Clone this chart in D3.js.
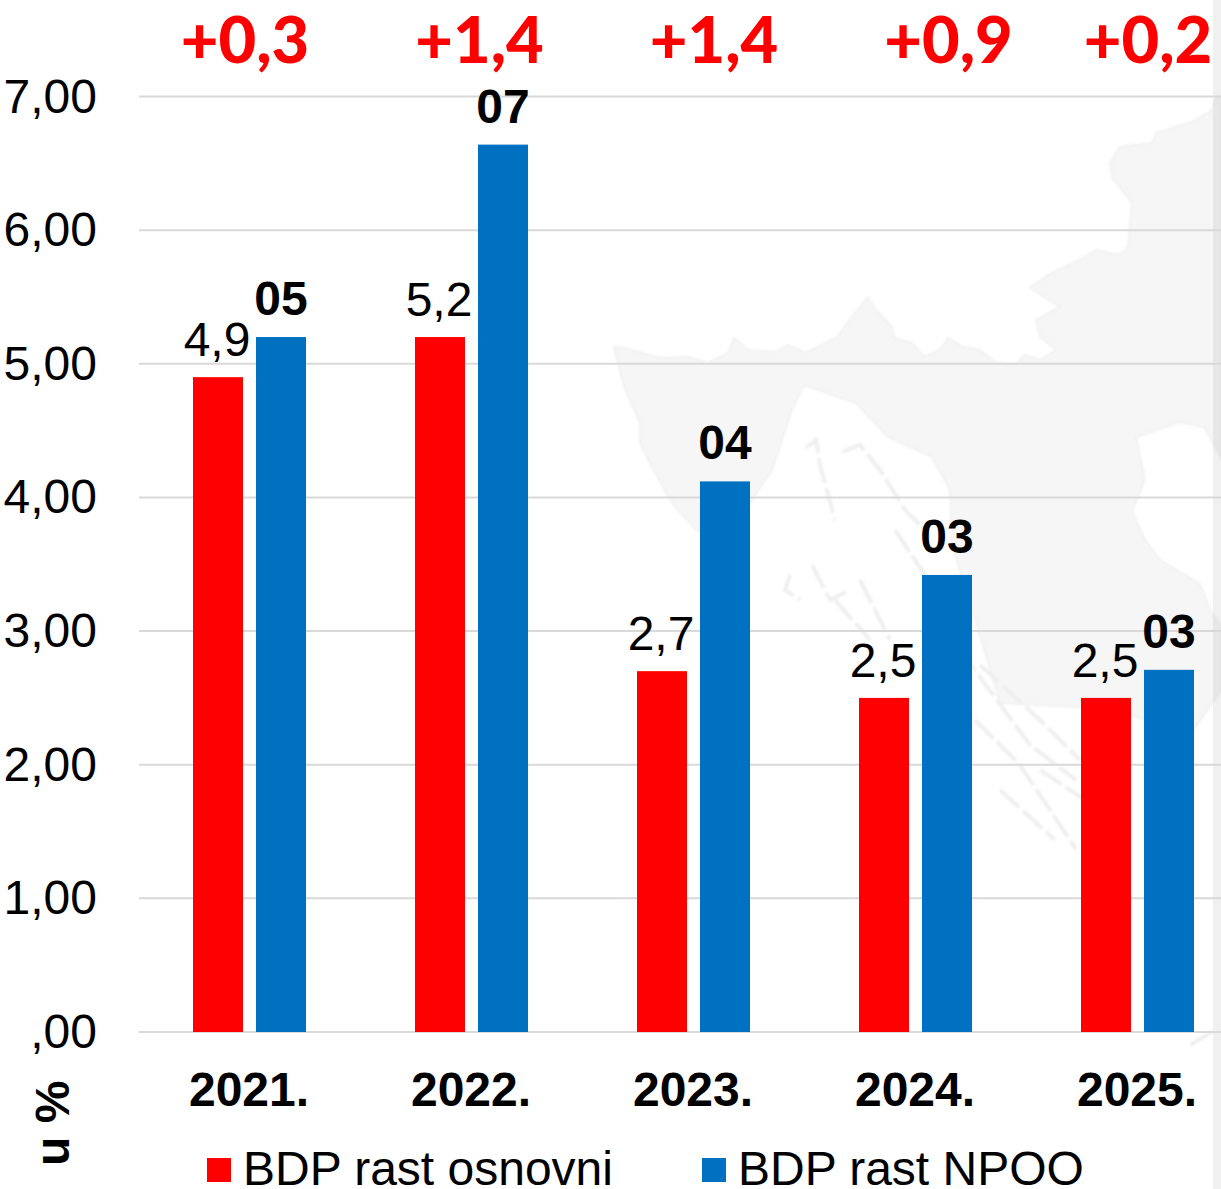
<!DOCTYPE html>
<html><head><meta charset="utf-8">
<script src="https://cdn.jsdelivr.net/npm/d3@7"></script>
<style>html,body{margin:0;padding:0;background:#fff;overflow:hidden}svg{display:block}text{font-family:"Liberation Sans",Arial,sans-serif;fill:#000}</style>
</head><body><svg id="c" width="1221" height="1189"><defs><filter id="soft" x="-5%" y="-5%" width="110%" height="110%"><feGaussianBlur stdDeviation="1"/></filter></defs></svg>
<script>
const years=["2021.","2022.","2023.","2024.","2025."];
const seriesNames=["BDP rast osnovni","BDP rast NPOO"];
const seriesColors=["#ff0000","#0070c0"];
const osnovni=[4.9,5.2,2.7,2.5,2.5];
const npoo=[5.2,6.64,4.12,3.42,2.71];
const osnovniLabels=["4,9","5,2","2,7","2,5","2,5"];
const npooLabels=["05","07","04","03","03"];
const deltas=["+0,3","+1,4","+1,4","+0,9","+0,2"];
const yTicks=[0,1,2,3,4,5,6,7];
const yTickLabels=[",00","1,00","2,00","3,00","4,00","5,00","6,00","7,00"];

const svg=d3.select("#c");
const y=d3.scaleLinear().domain([0,7]).range([1032,96.5]);
const x=d3.scaleBand().domain(years).range([138.5,1248.5]);
const inner=d3.scaleBand().domain(seriesNames).range([-56.5,56.5]).paddingInner(0.206);
const deltaX=d3.scaleLinear().domain([0,4]).range([245,1183]);

// faint map of Croatia in the background
const land="M614,347L624,348L660,358L688,357L708,363L728,353L734,338L748,350L776,352L788,345L806,353L836,338L852,317L868,297L876,310L892,327L894,338L912,343L924,357L940,350L948,338L964,347L980,350L996,363L1016,365L1024,355L1040,360L1056,350L1040,337L1036,320L1060,307L1044,297L1030,287L1052,273L1080,260L1096,250L1120,255L1128,247L1132,203L1112,177L1110,163L1120,147L1152,143L1156,133L1192,122L1212,110L1216,97L1221,97L1221,457L1204,427L1180,422L1136,437L1145,480L1132,511L1144,538L1160,560L1200,584L1212,614L1221,626L1221,690L1190,735L1130,715L1080,707L1000,703L976,622L952,545L950,490L932,457L888,437L856,403L804,385L792,410L772,470L752,500L730,545L696,530L672,503L652,467L640,443L640,423L624,387Z";
const g0=svg.append("g").attr("filter","url(#soft)");
g0.append("path").attr("d",land).attr("fill","#f6f6f6").attr("stroke","#f1f1f1").attr("stroke-width",2);
const isles=["M806,448L816,440L820,465L835,520","M842,452L860,445L880,470L905,510L925,530","M790,575L785,590L800,600","M812,565L830,600L850,590","M895,530L925,575","M860,580L890,640","M835,600L870,640","M980,665L1040,720L1080,760","M960,650L1030,745L1076,780","M975,720L1020,765L1076,849","M1040,770L1100,810","M1000,790L1055,840","M1190,1045L1215,1030","M1170,1025L1174,1028"];
g0.selectAll("path.i").data(isles).join("path").attr("class","i").attr("d",d=>d).attr("fill","none").attr("stroke","#efefef").attr("stroke-width",4).attr("stroke-dasharray","26 5");
svg.append("rect").attr("x",1213).attr("y",0).attr("width",8).attr("height",1189).attr("fill","#000").attr("opacity",0.06);

// gridlines + y axis
const yAxis=d3.axisLeft(y).tickValues(yTicks).tickSize(0).tickPadding(0).tickFormat((d,i)=>yTickLabels[i]);
const ga=svg.append("g").attr("transform","translate(97,0)").call(yAxis);
ga.select(".domain").remove();
ga.selectAll("text").attr("font-size",48).attr("x",0).attr("dy",null).attr("y",15.5).attr("text-anchor","end");
svg.append("g").selectAll("line").data(yTicks).join("line")
  .attr("x1",139).attr("x2",1221).attr("y1",d=>y(d)).attr("y2",d=>y(d))
  .attr("stroke","#d9d9d9").attr("stroke-width",2);

// x axis
const xAxis=d3.axisBottom(x).tickSize(0).tickPadding(0);
const gx=svg.append("g").attr("transform","translate(0,1032)").call(xAxis);
gx.select(".domain").remove();
gx.selectAll("text").attr("font-size",48).attr("font-weight","bold").attr("dy",null).attr("y",74).attr("dx",-0.5);

// bars and labels
[[osnovni,osnovniLabels,"normal"],[npoo,npooLabels,"bold"]].forEach(([vals,labs,w],s)=>{
  const cx=(i)=>x(years[i])+x.bandwidth()/2+inner(seriesNames[s]);
  svg.append("g").selectAll("rect").data(vals).join("rect")
    .attr("x",(d,i)=>cx(i)).attr("width",inner.bandwidth())
    .attr("y",d=>y(d)).attr("height",d=>y(0)-y(d)).attr("fill",seriesColors[s]);
  svg.append("g").selectAll("text").data(vals).join("text")
    .attr("x",(d,i)=>cx(i)+inner.bandwidth()/2-(s===0?1:0)).attr("y",d=>y(d)-(s===0?21:22))
    .attr("text-anchor","middle").attr("font-size",48).attr("font-weight",w)
    .text((d,i)=>labs[i]);
});

// deltas
svg.append("g").selectAll("text").data(deltas).join("text")
  .attr("x",(d,i)=>Math.min(deltaX(i),1148)).attr("y",63).attr("text-anchor","middle")
  .attr("font-size",65).attr("font-weight",900).style("fill","#ff0000").style("font-family","Lato")
  .text(d=>d);

// axis title
svg.append("text").attr("transform","translate(69,1166) rotate(-90)")
  .attr("font-size",48).attr("font-weight","bold").text("u %");

// legend
const lx=d3.scaleOrdinal().domain(seriesNames).range([207,702]);
const lg=svg.append("g").selectAll("g").data(seriesNames).join("g").attr("transform",d=>`translate(${lx(d)},0)`);
lg.append("rect").attr("y",1158).attr("width",24).attr("height",24).attr("fill",(d,i)=>seriesColors[i]);
lg.append("text").attr("x",36).attr("y",1185).attr("font-size",48).text(d=>d);
</script></body></html>
